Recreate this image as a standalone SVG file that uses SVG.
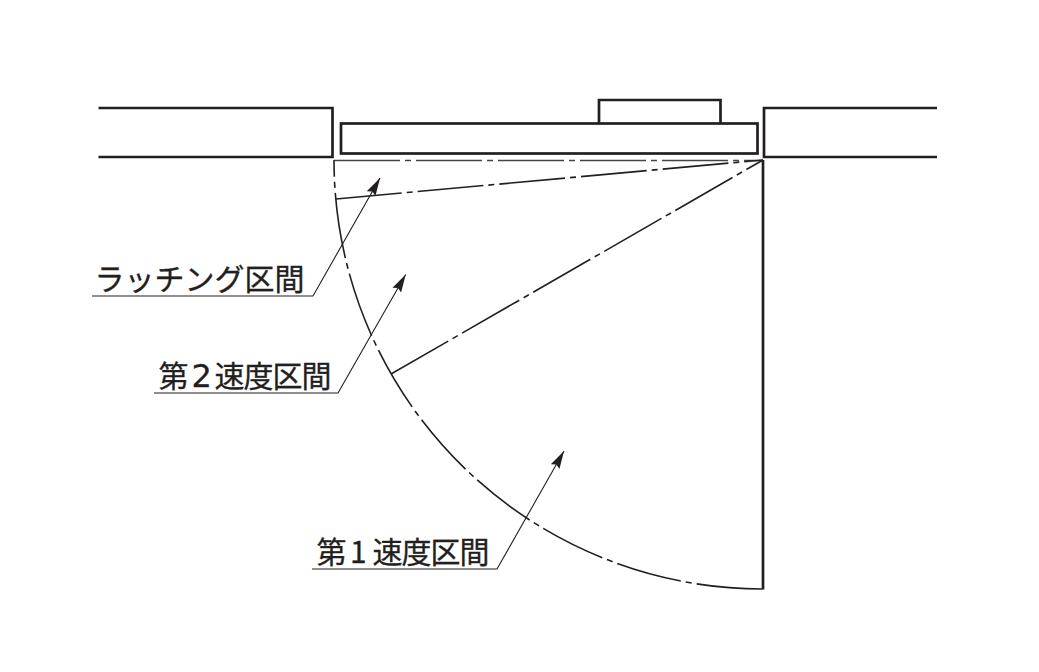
<svg xmlns="http://www.w3.org/2000/svg" width="1039" height="672" viewBox="0 0 1039 672">
<style>
.wall{fill:none;stroke:#231f20;stroke-width:2.7}
.chain{fill:none;stroke:#231f20;stroke-width:1.6;stroke-dasharray:66 5 6 5}
.leader{fill:none;stroke:#231f20;stroke-width:1.1}
.label{font-family:"Noto Sans CJK JP","Noto Sans",sans-serif;font-size:30px;fill:#231f20;stroke:#231f20;stroke-width:0.3}
.digit{font-family:"DejaVu Sans",sans-serif;font-size:32px}
</style>
<defs>
<marker id="head" markerUnits="userSpaceOnUse" markerWidth="20" markerHeight="14" refX="18" refY="6" orient="auto"><path d="M0,1 L18,6 L0,11 L2.500,6 Z" fill="#231f20"/></marker>
</defs>
<rect width="1039" height="672" fill="#fff"/>
<g id="wall-left"><path class="wall" d="M98.500,108 H332.500 V157 H98.500"/></g>
<g id="wall-right"><path class="wall" d="M937,108 H764 V157 H937"/></g>
<g id="door"><rect class="wall" x="341" y="123.500" width="416.500" height="30"/></g>
<g id="closer"><path class="wall" d="M599,123 V100 H720.500 V123"/></g>
<g id="connectors">
<path class="wall" d="M763,160 V589.500"/>
<path class="chain" style="stroke:#444" d="M334,160.500 H763"/>
<path class="chain" d="M336,199 L763,160"/>
<path class="chain" d="M391,374 L763,160"/>
<path class="chain" style="stroke-dashoffset:49" d="M334,160 A429,429 0 0 0 763,589"/>
<path class="leader" marker-end="url(#head)" d="M92,296 H313 L380,178"/>
<path class="leader" marker-end="url(#head)" d="M154,393 H338 L405.700,274.500"/>
<path class="leader" marker-end="url(#head)" d="M312,569 H497 L564,451"/>
</g>
<g id="label-latching"><text class="label" x="94.500" y="290">ラッチング区間</text></g>
<g id="label-speed2"><text class="label" y="387"><tspan x="158.500">第</tspan><tspan class="digit" x="191.500">2</tspan><tspan x="214.500">速</tspan><tspan x="243.500">度</tspan><tspan x="272.500">区</tspan><tspan x="301.500">間</tspan></text></g>
<g id="label-speed1"><text class="label" y="563"><tspan x="316.500">第</tspan><tspan x="350">1</tspan><tspan x="372.500">速</tspan><tspan x="401.500">度</tspan><tspan x="430.500">区</tspan><tspan x="459.500">間</tspan></text></g>
</svg>
